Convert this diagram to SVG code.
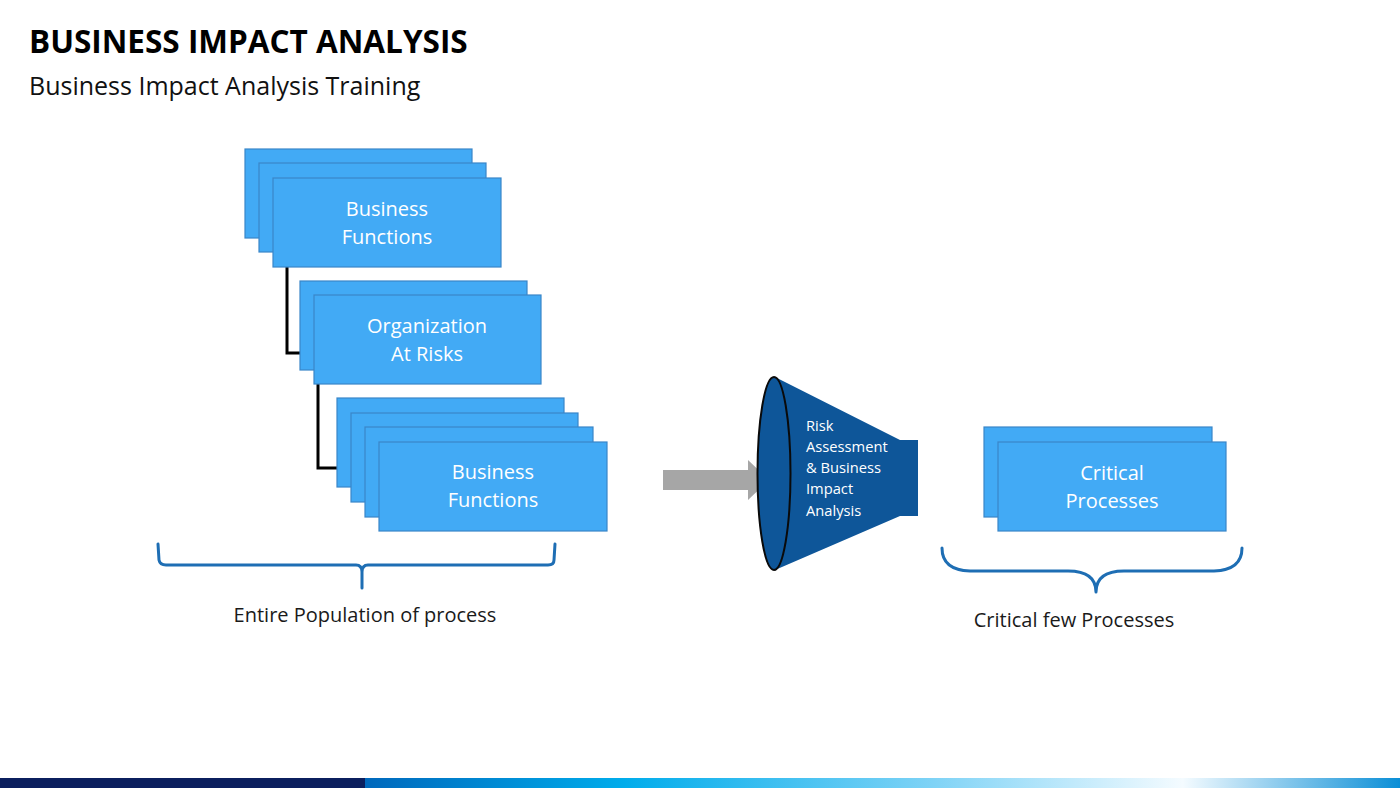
<svg xmlns="http://www.w3.org/2000/svg" width="1400" height="788" viewBox="0 0 1400 788">
<defs>
<style>
.box{fill:#42AAF5;stroke:#3A86C8;stroke-width:1.2}
.bt{font-family:"Open Sans","Liberation Sans",sans-serif;font-size:20px;fill:#FFFFFF;text-anchor:middle}
.lbl{font-family:"Open Sans","Liberation Sans",sans-serif;font-size:20px;fill:#1A1A1A;text-anchor:middle}
.conn{fill:none;stroke:#000;stroke-width:3}
.brace{fill:none;stroke:#1E6EB4;stroke-width:3;stroke-linecap:round;stroke-linejoin:round}
.ft{font-family:"Open Sans","Liberation Sans",sans-serif;font-size:14.7px;fill:#FFFFFF}
</style>
<linearGradient id="barg" x1="365" y1="0" x2="1400" y2="0" gradientUnits="userSpaceOnUse">
<stop offset="0" stop-color="#0068BC"/>
<stop offset="0.25" stop-color="#00ACEB"/>
<stop offset="0.55" stop-color="#7FD3F6"/>
<stop offset="0.79" stop-color="#F4FBFF"/>
<stop offset="1" stop-color="#0A8ED6"/>
</linearGradient>
</defs>
<rect width="1400" height="788" fill="#FFFFFF"/>
<text x="29" y="53" font-family="Open Sans, Liberation Sans, sans-serif" font-weight="bold" font-size="31.5" fill="#000">BUSINESS IMPACT ANALYSIS</text>
<text x="29" y="95" font-family="Open Sans, Liberation Sans, sans-serif" font-size="25" fill="#111">Business Impact Analysis Training</text>

<g id="connectors">
<path class="conn" d="M287,267 L287,353 L300,353"/>
<path class="conn" d="M318,384 L318,468 L337,468"/>
</g>

<g id="node-business-functions-1">
<rect class="box" x="245" y="149" width="227" height="89"/>
<rect class="box" x="259" y="163" width="227" height="89"/>
<rect class="box" x="273" y="178" width="228" height="89"/>
<text class="bt" x="387" y="216">Business</text>
<text class="bt" x="387" y="244">Functions</text>
</g>

<g id="node-organization">
<rect class="box" x="300" y="281" width="227" height="89"/>
<rect class="box" x="314" y="295" width="227" height="89"/>
<text class="bt" x="427" y="333">Organization</text>
<text class="bt" x="427" y="361">At Risks</text>
</g>

<g id="node-business-functions-2">
<rect class="box" x="337" y="398" width="227" height="89"/>
<rect class="box" x="351" y="413" width="227" height="89"/>
<rect class="box" x="365" y="427" width="228" height="90"/>
<rect class="box" x="379" y="442" width="228" height="89"/>
<text class="bt" x="493" y="479">Business</text>
<text class="bt" x="493" y="507">Functions</text>
</g>

<g id="node-arrow">
<polygon points="663,470 748,470 748,460 769,480 748,500 748,490 663,490" fill="#A6A6A6"/>
</g>

<g id="node-funnel">
<path d="M775,377 L900,440 L918,440 L918,516 L900,516 L775,570 Z" fill="#0E5699"/>
<ellipse cx="774" cy="473.5" rx="16.5" ry="96.5" fill="#0E5699" stroke="#0A0A0A" stroke-width="2"/>
<text class="ft" x="806" y="431">Risk</text>
<text class="ft" x="806" y="452">Assessment</text>
<text class="ft" x="806" y="473">&amp; Business</text>
<text class="ft" x="806" y="494">Impact</text>
<text class="ft" x="806" y="516">Analysis</text>
</g>

<g id="node-critical">
<rect class="box" x="984" y="427" width="228" height="90"/>
<rect class="box" x="998" y="442" width="228" height="89"/>
<text class="bt" x="1112" y="480">Critical</text>
<text class="bt" x="1112" y="508">Processes</text>
</g>

<g id="brace-left">
<path class="brace" d="M158,544 L159,560 Q160,565 166,565 L356,565 Q362,565 362,572 L362,588 M362,572 Q362,565 368,565 L548,565 Q554,565 554,560 L555,544"/>
<text class="lbl" x="365" y="622">Entire Population of process</text>
</g>

<g id="brace-right">
<path class="brace" d="M942,548 Q942,570 970,571 L1068,571 Q1096,571 1096,592 M1096,592 Q1096,571 1124,571 L1214,571 Q1242,570 1242,548"/>
<text class="lbl" x="1074" y="627">Critical few Processes</text>
</g>

<g id="bottom-bar">
<rect x="0" y="778" width="365" height="10" fill="#0B1F5E"/>
<rect x="365" y="778" width="1035" height="10" fill="url(#barg)"/>
</g>
</svg>
